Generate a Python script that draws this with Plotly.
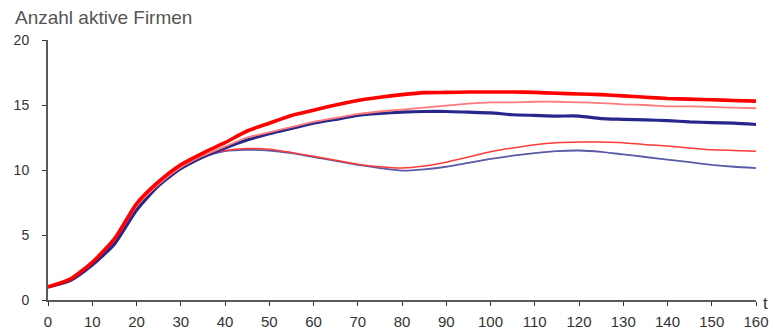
import plotly.graph_objects as go

# time axis (every 5 periods)
t = list(range(0, 165, 5))

# number of active firms per scenario
rot_dick = [1.0, 1.6, 2.9, 4.7, 7.4, 9.1, 10.4, 11.3, 12.1, 13.0, 13.6, 14.2, 14.6,
            15.0, 15.35, 15.6, 15.8, 15.95, 15.97, 16.0, 16.0, 16.0, 15.97, 15.9,
            15.85, 15.8, 15.7, 15.6, 15.5, 15.45, 15.4, 15.35, 15.3]
rot_duenn = [1.0, 1.6, 2.9, 4.6, 7.2, 8.9, 10.2, 11.1, 11.8, 12.5, 12.9, 13.3, 13.7,
             14.0, 14.3, 14.5, 14.65, 14.8, 14.95, 15.1, 15.2, 15.2, 15.25, 15.25,
             15.2, 15.15, 15.05, 15.0, 14.9, 14.9, 14.85, 14.8, 14.75]
blau_dick = [1.0, 1.5, 2.7, 4.3, 6.9, 8.8, 10.1, 11.0, 11.7, 12.3, 12.8, 13.2, 13.6,
             13.9, 14.2, 14.35, 14.45, 14.5, 14.5, 14.45, 14.4, 14.25, 14.2, 14.15,
             14.15, 13.95, 13.9, 13.85, 13.8, 13.7, 13.65, 13.6, 13.5]
rot_unten = [1.0, 1.6, 2.9, 4.6, 7.3, 9.0, 10.3, 11.1, 11.5, 11.65, 11.6, 11.35, 11.05,
             10.75, 10.45, 10.25, 10.15, 10.3, 10.6, 11.0, 11.4, 11.7, 11.95, 12.1,
             12.15, 12.15, 12.1, 11.95, 11.85, 11.7, 11.55, 11.5, 11.45]
blau_unten = [1.0, 1.5, 2.8, 4.4, 7.0, 8.9, 10.2, 11.0, 11.45, 11.55, 11.5, 11.3, 11.0,
              10.7, 10.4, 10.15, 9.95, 10.05, 10.25, 10.55, 10.85, 11.1, 11.3, 11.45,
              11.5, 11.4, 11.2, 11.0, 10.8, 10.6, 10.4, 10.25, 10.15]

x_ticks = list(range(0, 170, 10))
y_ticks = [0, 5, 10, 15, 20]

fig = go.Figure()

series = [
    (blau_unten, "#5a5aa8", 1.8),
    (rot_unten, "#ff3a3a", 1.5),
    (blau_dick, "#26268c", 3.2),
    (rot_duenn, "#ff7a7a", 1.8),
    (rot_dick, "#ff0000", 3.6),
]
for vals, col, w in series:
    fig.add_trace(go.Scatter(
        x=t, y=vals, mode="lines",
        line=dict(color=col, width=w, shape="spline", smoothing=0.6),
        showlegend=False, hoverinfo="skip",
    ))

font_family = "Liberation Sans, Arial, sans-serif"

fig.update_layout(
    width=773, height=334,
    margin=dict(l=48, r=17, t=40, b=34),
    paper_bgcolor="white", plot_bgcolor="white",
    showlegend=False,
    xaxis=dict(
        range=[0, 160], tickvals=x_ticks, ticktext=[str(v) for v in x_ticks],
        showgrid=False, zeroline=False, automargin=False,
        showline=True, linecolor="#5a5a5a", linewidth=2,
        ticks="outside", ticklen=4, tickwidth=1, tickcolor="#333",
        tickfont=dict(family=font_family, size=15, color="#333"),
        ticklabelstandoff=3,
    ),
    yaxis=dict(
        range=[0, 20], tickvals=y_ticks, ticktext=[str(v) for v in y_ticks],
        showgrid=False, zeroline=False, automargin=False,
        showline=True, linecolor="#5a5a5a", linewidth=2,
        ticks="outside", ticklen=4, tickwidth=1, tickcolor="#333",
        tickfont=dict(family=font_family, size=14, color="#333"),
        ticklabelstandoff=10,
    ),
)

fig.add_annotation(
    text="Anzahl aktive Firmen", xref="paper", yref="paper",
    x=-35 / 708, y=1.0, xanchor="left", yanchor="bottom", yshift=10,
    showarrow=False,
    font=dict(family=font_family, size=19, color="#555"),
)
fig.add_annotation(
    text="t", xref="paper", yref="paper",
    x=1.0, y=0.0, xanchor="left", yanchor="middle", xshift=5, yshift=-3,
    showarrow=False,
    font=dict(family=font_family, size=17, color="#333"),
)

fig.write_html("out.html")
